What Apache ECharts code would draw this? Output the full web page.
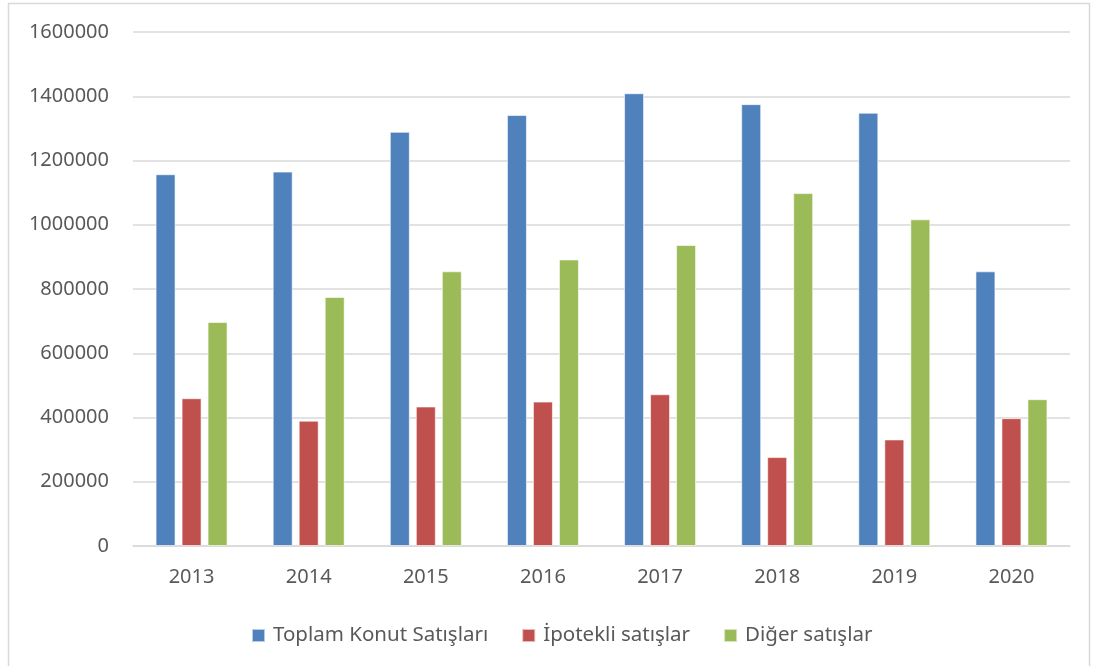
<!DOCTYPE html>
<html>
<head>
<meta charset="utf-8">
<script src="https://cdn.jsdelivr.net/npm/echarts@6/dist/echarts.min.js"></script>
<style>
  html, body { margin: 0; padding: 0; background: #fff; }
  #chart { width: 1096px; height: 666px; }
</style>
</head>
<body>
<div id="chart"></div>
<script>
// yıllar ve satış değerleri
const years = ['2013', '2014', '2015', '2016', '2017', '2018', '2019', '2020']
const toplamSatis = [1157190, 1165381, 1289320, 1341453, 1409314, 1375398, 1348729, 855000]
const ipotekliSatis = [459977, 390143, 434219, 449508, 472361, 276823, 331758, 398000]
const digerSatis = [697213, 775238, 855101, 891945, 936953, 1098575, 1016971, 457000]
const seriesNames = ['Toplam Konut Satışları', 'İpotekli satışlar', 'Diğer satışlar']
const seriesColors = ['#4F81BD', '#C0504D', '#9BBB59']

const textColor = '#595959'
const font = 'Noto Sans'

const chart = echarts.init(document.getElementById('chart'))

const makeBar = (name, data, color) => ({
  name,
  type: 'bar',
  data,
  barWidth: 20,
  barGap: '30%',
  itemStyle: { color, borderColor: 'rgba(255,255,255,0.6)', borderWidth: 1 }
})

const option = {
  backgroundColor: '#ffffff',
  animation: false,
  textStyle: { fontFamily: font },
  // dış çerçeve
  graphic: [{
    type: 'rect',
    shape: { x: 8.5, y: 3.5, width: 1081, height: 700 },
    style: { fill: 'none', stroke: '#d9d9d9', lineWidth: 1.5 },
    silent: true
  }],
  grid: { left: 133, right: 26, top: 32, bottom: 120 },
  legend: {
    left: 246,
    top: 620,
    itemWidth: 13,
    itemHeight: 13,
    itemGap: 33,
    icon: 'rect',
    textStyle: { color: textColor, fontSize: 20.5, fontFamily: font, padding: [0, 0, 0, 3] },
    data: seriesNames
  },
  xAxis: {
    type: 'category',
    data: years,
    axisTick: { show: false },
    axisLine: { lineStyle: { color: '#d9d9d9', width: 1.5 } },
    axisLabel: { color: textColor, fontSize: 20, fontFamily: font, margin: 21 }
  },
  yAxis: {
    type: 'value',
    min: 0,
    max: 1600000,
    interval: 200000,
    axisLine: { show: false },
    axisTick: { show: false },
    splitLine: { lineStyle: { color: '#d9d9d9', width: 1.5 } },
    axisLabel: {
      color: textColor,
      fontSize: 20,
      fontFamily: font,
      margin: 24,
      formatter: (v) => String(v)
    }
  },
  series: [
    makeBar(seriesNames[0], toplamSatis, seriesColors[0]),
    makeBar(seriesNames[1], ipotekliSatis, seriesColors[1]),
    makeBar(seriesNames[2], digerSatis, seriesColors[2])
  ]
}

chart.setOption(option)
</script>
</body>
</html>
